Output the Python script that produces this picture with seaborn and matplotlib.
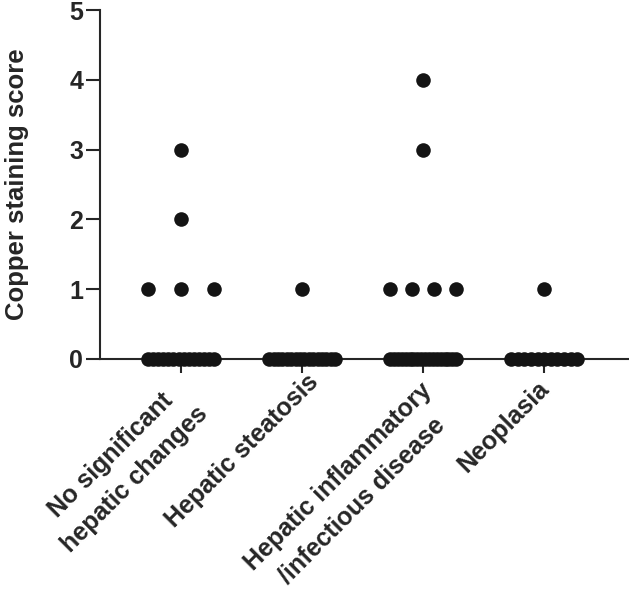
import matplotlib
matplotlib.use("Agg")
import matplotlib.pyplot as plt
import matplotlib.transforms as mtransforms
import numpy as np
import pandas as pd
import seaborn as sns

# copper staining scores per diagnosis group
groups = ["No significant\nhepatic changes", "Hepatic steatosis",
          "Hepatic inflammatory\n/infectious disease", "Neoplasia"]
no_changes = [0] * 14 + [1, 1, 1, 2, 3]
steatosis = [0] * 16 + [1]
inflammatory = [0] * 18 + [1, 1, 1, 1, 3, 4]
neoplasia = [0] * 11 + [1]
scores = [no_changes, steatosis, inflammatory, neoplasia]

# spread tied values horizontally like a scatter dot plot
rows = []
for gi, vals in enumerate(scores):
    for v in sorted(set(vals)):
        n = vals.count(v)
        offs = np.linspace(-0.273, 0.273, n) if n > 1 else [0.0]
        for o in offs:
            rows.append({"pos": gi + o, "score": v})
df = pd.DataFrame(rows)

sns.set_style("ticks")
plt.rcParams["font.family"] = ["Liberation Sans", "DejaVu Sans"]
plt.rcParams["font.weight"] = "bold"

fig = plt.figure(figsize=(6.29, 6.02), dpi=100)
ax = fig.add_axes([100 / 629, 243 / 602, 529 / 629, 349 / 602])

sns.scatterplot(data=df, x="pos", y="score", ax=ax, color="#141414", s=110,
                linewidth=0, clip_on=False, zorder=3, legend=False)

ax.set_xlim(-0.67, 3.70)
ax.set_ylim(0, 5)
ax.set_yticks(range(6))
ax.set_xticks(range(4))
ax.set_xticklabels([])
ax.set_xlabel("")
ax.set_ylabel("Copper staining score", fontsize=18.5, fontweight="bold", labelpad=29)
ax.tick_params(axis="y", length=10, width=1.5, labelsize=18, pad=2)
ax.tick_params(axis="x", length=10, width=1.5)
for lab in ax.get_yticklabels():
    lab.set_fontweight("bold")
sns.despine(ax=ax)
for sp in ["left", "bottom"]:
    ax.spines[sp].set_linewidth(1.5)

# rotated category labels, centre of each label offset from its tick (pixels)
label_shift = [(-58, 108), (-60, 92), (-73, 130), (-41, 68)]
for gi, (name, (dx, dy)) in enumerate(zip(groups, label_shift)):
    tr = ax.get_xaxis_transform() + mtransforms.ScaledTranslation(
        dx / 100, -dy / 100, fig.dpi_scale_trans)
    ax.text(gi, 0, name, transform=tr, rotation=45, rotation_mode="anchor",
            ha="center", va="center", multialignment="center",
            fontsize=18, fontweight="bold", linespacing=1.5)

fig.savefig("out.png", dpi=100)
